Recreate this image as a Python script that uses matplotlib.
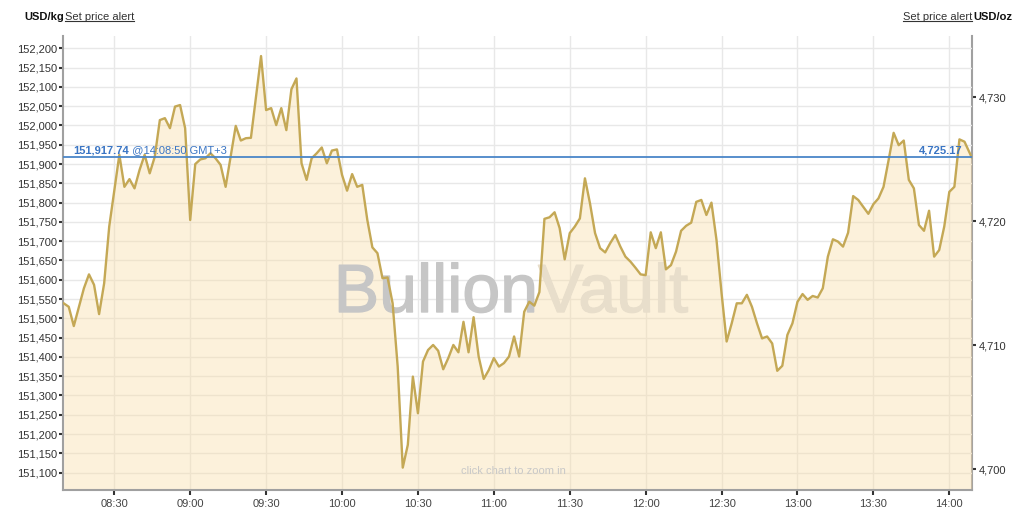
import matplotlib
matplotlib.use("Agg")
import matplotlib.pyplot as plt
import matplotlib.dates as mdates
import matplotlib.patheffects as pe
from matplotlib.lines import Line2D
from matplotlib.ticker import FuncFormatter
import pandas as pd

plt.rcParams['font.family'] = ['Liberation Sans', 'DejaVu Sans']

OZ_PER_KG = 32.1507466

# gold spot, USD per kg, one quote every 2 minutes
day = "2025-10-14"
times = [
    "08:10", "08:12", "08:14", "08:18", "08:20", "08:22", "08:24", "08:26", "08:28", "08:32",
    "08:34", "08:36", "08:38", "08:40", "08:42", "08:44", "08:46", "08:48", "08:50", "08:52",
    "08:54", "08:56", "08:58", "09:00", "09:02", "09:04", "09:06", "09:08", "09:10", "09:12",
    "09:14", "09:18", "09:20", "09:22", "09:24", "09:28", "09:30", "09:32", "09:34", "09:36",
    "09:38", "09:40", "09:42", "09:44", "09:46", "09:48", "09:50", "09:52", "09:54", "09:56",
    "09:58", "10:00", "10:02", "10:04", "10:06", "10:08", "10:10", "10:12", "10:14", "10:16",
    "10:18", "10:20", "10:22", "10:24", "10:26", "10:28", "10:30", "10:32", "10:34", "10:36",
    "10:38", "10:40", "10:42", "10:44", "10:46", "10:48", "10:50", "10:52", "10:54", "10:56",
    "10:58", "11:00", "11:02", "11:04", "11:06", "11:08", "11:10", "11:12", "11:14", "11:16",
    "11:18", "11:20", "11:22", "11:24", "11:26", "11:28", "11:30", "11:32", "11:34", "11:36",
    "11:38", "11:40", "11:42", "11:44", "11:46", "11:48", "11:50", "11:52", "11:54", "11:56",
    "11:58", "12:00", "12:02", "12:04", "12:06", "12:08", "12:10", "12:12", "12:14", "12:16",
    "12:18", "12:20", "12:22", "12:24", "12:26", "12:28", "12:30", "12:32", "12:34", "12:36",
    "12:38", "12:40", "12:42", "12:44", "12:46", "12:48", "12:50", "12:52", "12:54", "12:56",
    "12:58", "13:00", "13:02", "13:04", "13:06", "13:08", "13:10", "13:12", "13:14", "13:16",
    "13:18", "13:20", "13:22", "13:24", "13:26", "13:28", "13:30", "13:32", "13:34", "13:36",
    "13:38", "13:40", "13:42", "13:44", "13:46", "13:48", "13:50", "13:52", "13:54", "13:56",
    "13:58", "14:00", "14:02", "14:04", "14:06",
]
prices = [
    151539, 151530, 151480, 151578, 151614, 151587, 151511, 151591, 151738, 151924,
    151841, 151861, 151837, 151885, 151924, 151876, 151919, 152014, 152019, 151993,
    152049, 152053, 151993, 151755, 151900, 151912, 151915, 151928, 151915, 151898,
    151841, 151999, 151961, 151967, 151968, 152180, 152040, 152045, 152001, 152045,
    151988, 152094, 152122, 151902, 151859, 151915, 151928, 151943, 151902, 151935,
    151938, 151872, 151831, 151874, 151841, 151846, 151755, 151684, 151669, 151604,
    151606, 151539, 151375, 151113, 151172, 151349, 151254, 151388, 151418, 151431,
    151416, 151368, 151397, 151431, 151412, 151491, 151412, 151503, 151401, 151343,
    151366, 151397, 151375, 151384, 151401, 151453, 151401, 151517, 151543, 151533,
    151568, 151758, 151762, 151775, 151734, 151653, 151721, 151738, 151759, 151863,
    151798, 151721, 151682, 151671, 151695, 151716, 151686, 151660, 151647, 151631,
    151614, 151612, 151723, 151682, 151723, 151627, 151638, 151673, 151727, 151740,
    151748, 151802, 151807, 151768, 151800, 151703, 151565, 151440, 151487, 151539,
    151539, 151561, 151530, 151487, 151448, 151453, 151435, 151364, 151377, 151457,
    151487, 151543, 151563, 151548, 151558, 151554, 151578, 151660, 151705, 151699,
    151686, 151722, 151817, 151807, 151789, 151771, 151796, 151811, 151841, 151910,
    151981, 151949, 151961, 151859, 151837, 151742, 151727, 151779, 151660, 151677,
    151738, 151828, 151841, 151964, 151958,
]
last_time = "14:08:50"
last_price = 151917.74
last_price_oz = 4725.17
left_ticks = list(range(151100, 152201, 50))
right_ticks = [4700, 4710, 4720, 4730]

stamps = pd.to_datetime([f"{day} {t}:00" for t in times] + [f"{day} {last_time}"])
vals = prices + [last_price]

W, H = 1024, 516
fig = plt.figure(figsize=(W / 100, H / 100), dpi=100)
ax = fig.add_axes([63 / W, 1 - 490 / H, (972 - 63) / W, (490 - 36) / H])

ymin, ymax = 151055, 152232
ax.set_ylim(ymin, ymax)
ax.set_xlim(pd.Timestamp(f"{day} 08:09:44"), pd.Timestamp(f"{day} 14:08:58"))

ax.set_axisbelow(True)
ax.grid(True, color='#e8e8e8', lw=1)
ax.fill_between(stamps, vals, ymin, color='#f9dca6', alpha=0.4, lw=0, zorder=1)
ax.plot(stamps, vals, color='#c4a855', lw=1.7, zorder=3, solid_joinstyle='round')
ax.axhline(last_price, color='#4a86c8', lw=1.3, zorder=4)

# axes look
ax.set_yticks(left_ticks)
ax.yaxis.set_major_formatter(FuncFormatter(lambda v, p: f"{v:,.0f}"))
ax.xaxis.set_major_locator(mdates.MinuteLocator(byminute=[0, 30]))
ax.xaxis.set_major_formatter(mdates.DateFormatter('%H:%M'))
ax.tick_params(axis='y', direction='out', length=3, width=1.5, color='#333333',
               labelsize=8, labelcolor='#333333', pad=1)
ax.tick_params(axis='x', direction='out', length=3.5, width=1.5, color='#333333',
               labelsize=8, labelcolor='#444444', pad=3)
for s in ['top', 'right']:
    ax.spines[s].set_visible(False)
for s in ['left', 'bottom']:
    ax.spines[s].set_color('#a0a0a0')
    ax.spines[s].set_linewidth(1.5)

sec = ax.secondary_yaxis('right', functions=(lambda v: v / OZ_PER_KG, lambda v: v * OZ_PER_KG))
sec.set_yticks(right_ticks)
sec.yaxis.set_major_formatter(FuncFormatter(lambda v, p: f"{v:,.0f}"))
sec.tick_params(direction='out', length=3, width=1.5, color='#333333',
                labelsize=8, labelcolor='#333333', pad=2)
sec.spines['right'].set_color('#a0a0a0')
sec.spines['right'].set_linewidth(1.5)

# last price labels
blue = '#3a75c4'
t1 = ax.annotate("151,917.74", xy=(0.011, last_price), xycoords=ax.get_yaxis_transform(),
                 xytext=(0, 1.5), textcoords='offset points', fontsize=8,
                 fontweight='bold', color=blue, va='bottom', ha='left', zorder=5)
ax.annotate(" @14:08:50 GMT+3", xy=(1, 0), xycoords=t1, fontsize=8, color=blue,
            va='bottom', ha='left', zorder=5)
ax.annotate(f"{last_price_oz:,.2f}", xy=(0.99, last_price), xycoords=ax.get_yaxis_transform(),
            xytext=(0, 1.5), textcoords='offset points', fontsize=8,
            fontweight='bold', color=blue, va='bottom', ha='right', zorder=5)

# watermark
ax.text(538 / W, 1 - 312 / H, "Bullion", transform=fig.transFigure, fontsize=49,
        color='#c6c6c6', ha='right', va='baseline', zorder=2,
        path_effects=[pe.withStroke(linewidth=1.0, foreground='#c6c6c6')])
ax.text(538 / W, 1 - 312 / H, "Vault", transform=fig.transFigure, fontsize=49,
        color='#e8decb', ha='left', va='baseline', zorder=2,
        path_effects=[pe.withStroke(linewidth=1.0, foreground='#e8decb')])
ax.text(513 / W, 1 - 471 / H, "click chart to zoom in", transform=fig.transFigure,
        fontsize=8, color='#c8c8c8', ha='center', va='center', zorder=2)

# header
fig.text(24 / W, 1 - 17 / H, "USD/kg", fontsize=8, fontweight='bold', color='#111111', va='center')
alert_l = fig.text(65 / W, 1 - 17 / H, "Set price alert", fontsize=8, color='#333333', va='center')
fig.text(1012 / W, 1 - 17 / H, "USD/oz", fontsize=8, fontweight='bold', color='#111111',
         va='center', ha='right')
alert_r = fig.text(972 / W, 1 - 17 / H, "Set price alert", fontsize=8, color='#333333',
                   va='center', ha='right')

fig.canvas.draw()
r = fig.canvas.get_renderer()
for t in [alert_l, alert_r]:
    bb = t.get_window_extent(r)
    y = bb.y0 + 1.2
    p0 = fig.transFigure.inverted().transform((bb.x0, y))
    p1 = fig.transFigure.inverted().transform((bb.x1, y))
    fig.add_artist(Line2D([p0[0], p1[0]], [p0[1], p1[1]], color='#333333', lw=0.8))

fig.savefig("out.png", dpi=100)
